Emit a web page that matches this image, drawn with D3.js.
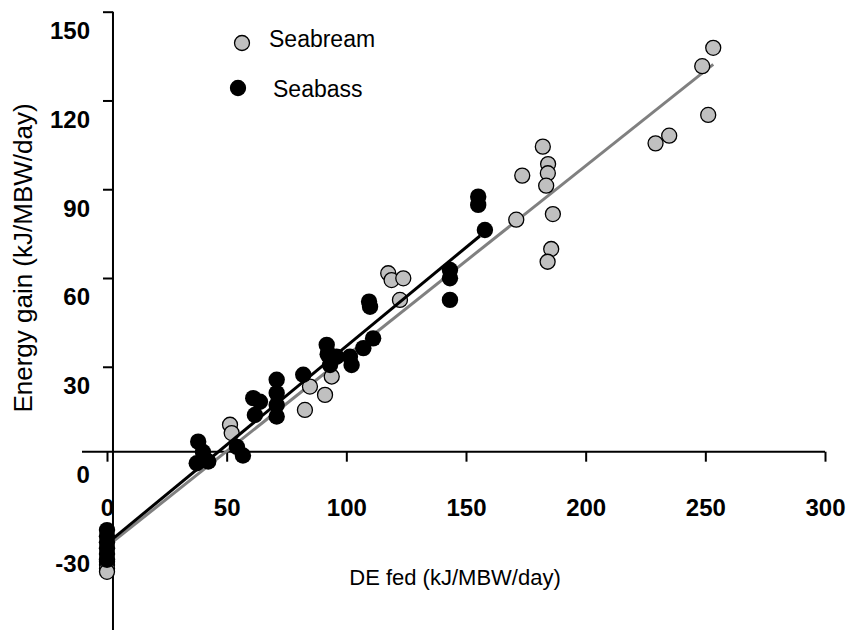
<!DOCTYPE html>
<html>
<head>
<meta charset="utf-8">
<script src="https://cdn.jsdelivr.net/npm/d3@7"></script>
<style>
  body { margin: 0; background: #fff; }
  text { font-family: "Liberation Sans", Arial, sans-serif; }
</style>
</head>
<body>
<div id="chart"></div>
<script>
// seabream (grey) - DE fed vs energy gain
var breamDE   = [253.3, 248.7, 251.2, 229.2, 234.9, 182.1, 184.3, 184.2, 183.5, 173.5, 171.0, 186.3, 185.6, 184.1,
                 117.5, 118.9, 123.8, 122.4, 51.4, 52.1, 84.8, 91.1, 82.7, 93.9, 92.4,
                 0, 0, 0, 0];
var breamGain = [137.8, 131.6, 115.1, 105.5, 108.1, 104.4, 98.5, 95.4, 91.2, 94.6, 79.7, 81.6, 69.8, 65.5,
                 61.6, 59.3, 59.9, 52.6, 10.4, 7.6, 23.3, 20.5, 15.4, 26.7, 34.6,
                 -35.9, -37.0, -38.2, -39.3];

// seabass (black)
var bassDE   = [38.1, 37.5, 42.3, 40.1, 54.3, 56.8, 61.1, 63.9, 61.8, 70.9, 70.9, 70.9, 70.9, 82.0,
                91.8, 92.2, 93.2, 109.9, 109.5, 111.2, 107.1, 101.5, 102.2, 95.9,
                143.3, 143.3, 143.3, 155.1, 155.1, 157.9,
                0, 0, 0, 0, 0, 0];
var bassGain = [4.7, -2.6, -2.0, 1.2, 2.9, 0.0, 19.4, 18.2, 13.7, 25.6, 21.1, 17.1, 13.2, 27.3,
                37.4, 34.2, 30.6, 50.3, 52.0, 39.6, 36.3, 33.4, 30.6, 33.4,
                62.7, 59.9, 52.6, 87.5, 84.7, 76.2,
                -25.2, -27.3, -29.3, -31.3, -33.3, -35.2];

// fitted lines (start/end)
var breamFitX = [2.5, 253.3], breamFitY = [-29.1, 132.2];
var bassFitX  = [2.5, 155.8], bassFitY  = [-28.1, 74.2];

var xTicks = [0, 50, 100, 150, 200, 250, 300];
var yTicks = [-30, 0, 30, 60, 90, 120, 150];

var width = 847, height = 630;

var svg = d3.select("#chart").append("svg")
    .attr("width", width)
    .attr("height", height);

var x = d3.scaleLinear().domain([0, 300]).range([107, 825]);
var y = d3.scaleLinear().domain([-30, 150]).range([544.3, 11.7]);

// axes cross slightly off zero, like the original
var xCross = 2.5, yCross = 1.3;

var fmt = function(d) { return String(d); };   // plain hyphen for negatives

//********** AXES ************
var yAxis = d3.axisLeft(y).tickValues(yTicks).tickFormat(fmt).tickSize(10).tickPadding(13).tickSizeOuter(0);
var yg = svg.append("g")
    .attr("transform", "translate(" + x(xCross) + ",0)")
    .call(yAxis);
yg.select(".domain").remove();
yg.selectAll("line").attr("stroke", "#000").attr("stroke-width", 2);
yg.selectAll("text")
    .attr("dy", "0.35em")
    .attr("transform", "translate(0,18.5)")
    .style("font-size", "24px")
    .style("font-weight", "bold")
    .attr("fill", "#000");
yg.selectAll(".tick").filter(function(d) { return d === 0; }).select("line").remove();

svg.append("line")
    .attr("x1", x(xCross)).attr("x2", x(xCross))
    .attr("y1", y(150)).attr("y2", height)
    .attr("stroke", "#000").attr("stroke-width", 2);

var xAxis = d3.axisBottom(x).tickValues(xTicks).tickFormat(fmt).tickSize(10).tickSizeOuter(0);
var xg = svg.append("g")
    .attr("transform", "translate(0," + y(yCross) + ")")
    .call(xAxis);
xg.select(".domain").remove();
xg.selectAll("line").attr("stroke", "#000").attr("stroke-width", 2);
xg.selectAll("text")
    .attr("y", 56)
    .attr("dy", "0.35em")
    .style("font-size", "24px")
    .style("font-weight", "bold")
    .attr("fill", "#000");

svg.append("line")
    .attr("x1", 82).attr("x2", x(300))
    .attr("y1", y(yCross)).attr("y2", y(yCross))
    .attr("stroke", "#000").attr("stroke-width", 2);

// titles
svg.append("text")
    .attr("x", 455).attr("y", 577)
    .attr("dy", "0.35em")
    .style("text-anchor", "middle")
    .style("font-size", "22px")
    .text("DE fed (kJ/MBW/day)");

svg.append("text")
    .attr("transform", "translate(23,258) rotate(-90)")
    .attr("dy", "0.35em")
    .style("text-anchor", "middle")
    .style("font-size", "26px")
    .text("Energy gain (kJ/MBW/day)");

//********** FIT LINES ************
var line = d3.line()
    .x(function(d) { return x(d[0]); })
    .y(function(d) { return y(d[1]); });

svg.append("path")
    .datum(d3.zip(breamFitX, breamFitY))
    .attr("d", line)
    .attr("fill", "none")
    .attr("stroke", "#808080")
    .attr("stroke-width", 3);

//********** POINTS ************
svg.append("g").selectAll("circle")
    .data(d3.zip(breamDE, breamGain))
    .enter().append("circle")
    .attr("cx", function(d) { return x(d[0]); })
    .attr("cy", function(d) { return y(d[1]); })
    .attr("r", 7.5)
    .attr("fill", "#c0c0c0")
    .attr("stroke", "#000")
    .attr("stroke-width", 1.3);

svg.append("path")
    .datum(d3.zip(bassFitX, bassFitY))
    .attr("d", line)
    .attr("fill", "none")
    .attr("stroke", "#000")
    .attr("stroke-width", 3);

svg.append("g").selectAll("circle")
    .data(d3.zip(bassDE, bassGain))
    .enter().append("circle")
    .attr("cx", function(d) { return x(d[0]); })
    .attr("cy", function(d) { return y(d[1]); })
    .attr("r", 8.2)
    .attr("fill", "#000");

//********** LEGEND ************
var legend = [
    {name: "Seabream", fill: "#c0c0c0", cx: 242, cy: 43, tx: 269, ty: 39},
    {name: "Seabass",  fill: "#000",    cx: 238, cy: 88, tx: 273, ty: 89}
];
var lg = svg.selectAll(".legend")
    .data(legend)
    .enter().append("g")
    .attr("class", "legend");
lg.append("circle")
    .attr("cx", function(d) { return d.cx; })
    .attr("cy", function(d) { return d.cy; })
    .attr("r", 7.5)
    .attr("fill", function(d) { return d.fill; })
    .attr("stroke", "#000")
    .attr("stroke-width", 1.3);
lg.append("text")
    .attr("x", function(d) { return d.tx; })
    .attr("y", function(d) { return d.ty; })
    .attr("dy", "0.35em")
    .style("font-size", "23px")
    .text(function(d) { return d.name; });
</script>
</body>
</html>
